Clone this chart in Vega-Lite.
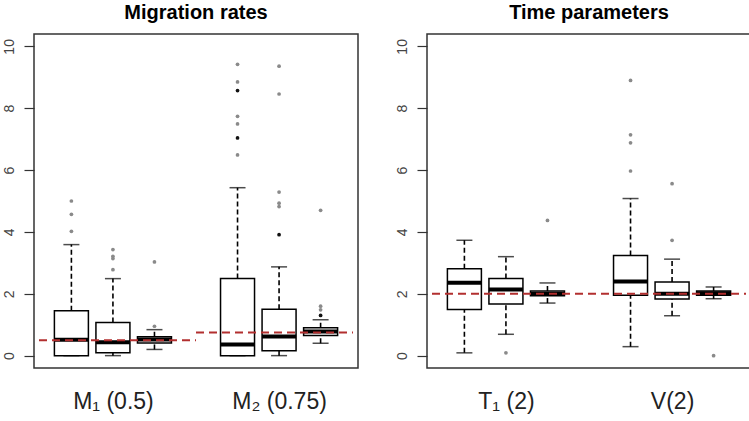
{
  "$schema": "https://vega.github.io/schema/vega-lite/v6.json",
  "background": "white",
  "padding": {"left": 1, "top": 2, "right": 0, "bottom": 0},
  "spacing": 35,
  "datasets": {
    "boxL": [
      {"pos": 1, "lower": 0, "q1": 0, "median": 0.51, "q3": 1.45, "upper": 3.59},
      {"pos": 2, "lower": 0, "q1": 0.09, "median": 0.43, "q3": 1.07, "upper": 2.49},
      {"pos": 3, "lower": 0.2, "q1": 0.41, "median": 0.52, "q3": 0.61, "upper": 0.84},
      {"pos": 5, "lower": 0, "q1": 0, "median": 0.36, "q3": 2.49, "upper": 5.43},
      {"pos": 6, "lower": 0, "q1": 0.16, "median": 0.62, "q3": 1.5, "upper": 2.87},
      {"pos": 7, "lower": 0.4, "q1": 0.65, "median": 0.78, "q3": 0.9, "upper": 1.16}
    ],
    "outL": [
      {"pos": 1, "value": 5.0, "n": 1}, {"pos": 1, "value": 4.57, "n": 1}, {"pos": 1, "value": 4.02, "n": 1},
      {"pos": 2, "value": 3.43, "n": 1}, {"pos": 2, "value": 3.21, "n": 1}, {"pos": 2, "value": 3.14, "n": 1}, {"pos": 2, "value": 2.78, "n": 1},
      {"pos": 3, "value": 3.03, "n": 1}, {"pos": 3, "value": 0.95, "n": 1},
      {"pos": 5, "value": 9.42, "n": 1}, {"pos": 5, "value": 8.85, "n": 1}, {"pos": 5, "value": 8.57, "n": 2}, {"pos": 5, "value": 7.74, "n": 1}, {"pos": 5, "value": 7.49, "n": 1}, {"pos": 5, "value": 7.04, "n": 2}, {"pos": 5, "value": 6.49, "n": 1},
      {"pos": 6, "value": 9.36, "n": 1}, {"pos": 6, "value": 8.46, "n": 1}, {"pos": 6, "value": 5.29, "n": 1}, {"pos": 6, "value": 4.93, "n": 1}, {"pos": 6, "value": 4.82, "n": 1}, {"pos": 6, "value": 3.91, "n": 2},
      {"pos": 7, "value": 4.7, "n": 1}, {"pos": 7, "value": 1.6, "n": 1}, {"pos": 7, "value": 1.48, "n": 1}, {"pos": 7, "value": 1.3, "n": 2}
    ],
    "refL": [
      {"x0": 0.22, "x1": 4, "ref": 0.5},
      {"x0": 4, "x1": 7.78, "ref": 0.75}
    ],
    "boxR": [
      {"pos": 1, "lower": 0.09, "q1": 1.49, "median": 2.36, "q3": 2.81, "upper": 3.73},
      {"pos": 2, "lower": 0.69, "q1": 1.67, "median": 2.14, "q3": 2.49, "upper": 3.2},
      {"pos": 3, "lower": 1.7, "q1": 1.94, "median": 2.0, "q3": 2.09, "upper": 2.35},
      {"pos": 5, "lower": 0.29, "q1": 1.95, "median": 2.4, "q3": 3.24, "upper": 5.08},
      {"pos": 6, "lower": 1.29, "q1": 1.83, "median": 2.0, "q3": 2.38, "upper": 3.12},
      {"pos": 7, "lower": 1.84, "q1": 1.95, "median": 2.02, "q3": 2.09, "upper": 2.22}
    ],
    "outR": [
      {"pos": 2, "value": 0.09, "n": 1},
      {"pos": 3, "value": 4.37, "n": 1},
      {"pos": 5, "value": 8.9, "n": 1}, {"pos": 5, "value": 7.14, "n": 1}, {"pos": 5, "value": 6.88, "n": 1}, {"pos": 5, "value": 5.97, "n": 1},
      {"pos": 6, "value": 5.56, "n": 1}, {"pos": 6, "value": 3.73, "n": 1},
      {"pos": 7, "value": 0.0, "n": 1}
    ],
    "refR": [
      {"x0": 0.22, "x1": 7.78, "ref": 2}
    ]
  },
  "hconcat": [
    {
      "width": 324,
      "height": 334,
      "title": {"text": "Migration rates"},
      "layer": [
        {
          "data": {"name": "boxL"},
          "mark": {"type": "rule", "color": "black", "strokeWidth": 1.6, "strokeDash": [5, 3]},
          "encoding": {
            "x": {"field": "pos", "type": "quantitative", "scale": {"domain": [0.22, 7.78], "nice": false, "zero": false},
              "axis": {"values": [2, 6], "labelExpr": "datum.value == 2 ? 'M₁ (0.5)' : 'M₂ (0.75)'"}},
            "y": {"field": "q3", "type": "quantitative", "scale": {"domain": [-0.4, 10.4], "nice": false, "zero": false}, "axis": {"values": [0, 2, 4, 6, 8, 10]}},
            "y2": {"field": "upper"}
          }
        },
        {
          "data": {"name": "boxL"},
          "mark": {"type": "rule", "color": "black", "strokeWidth": 1.6, "strokeDash": [5, 3]},
          "encoding": {
            "x": {"field": "pos", "type": "quantitative"},
            "y": {"field": "lower", "type": "quantitative"},
            "y2": {"field": "q1"}
          }
        },
        {
          "data": {"name": "boxL"},
          "mark": {"type": "tick", "orient": "horizontal", "color": "black", "size": 16, "thickness": 1.5},
          "encoding": {
            "x": {"field": "pos", "type": "quantitative"},
            "y": {"field": "upper", "type": "quantitative"}
          }
        },
        {
          "data": {"name": "boxL"},
          "mark": {"type": "tick", "orient": "horizontal", "color": "black", "size": 16, "thickness": 1.5},
          "encoding": {
            "x": {"field": "pos", "type": "quantitative"},
            "y": {"field": "lower", "type": "quantitative"}
          }
        },
        {
          "data": {"name": "boxL"},
          "mark": {"type": "bar", "orient": "vertical", "size": 34, "fill": "white", "stroke": "black", "strokeWidth": 1.5},
          "encoding": {
            "x": {"field": "pos", "type": "quantitative"},
            "y": {"field": "q1", "type": "quantitative"},
            "y2": {"field": "q3"}
          }
        },
        {
          "data": {"name": "boxL"},
          "mark": {"type": "tick", "orient": "horizontal", "color": "black", "size": 34, "thickness": 4, "opacity": 1},
          "encoding": {
            "x": {"field": "pos", "type": "quantitative"},
            "y": {"field": "median", "type": "quantitative"}
          }
        },
        {
          "data": {"name": "outL"},
          "mark": {"type": "point", "shape": "circle", "filled": true, "size": 14, "opacity": 1},
          "encoding": {
            "x": {"field": "pos", "type": "quantitative"},
            "y": {"field": "value", "type": "quantitative"},
            "color": {"field": "n", "type": "ordinal", "scale": {"domain": [1, 2], "range": ["#8a8a8a", "#111111"]}, "legend": null}
          }
        },
        {
          "data": {"name": "refL"},
          "mark": {"type": "rule", "color": "#b22f2f", "strokeWidth": 2, "strokeDash": [8, 5]},
          "encoding": {
            "x": {"field": "x0", "type": "quantitative"},
            "x2": {"field": "x1"},
            "y": {"field": "ref", "type": "quantitative"}
          }
        }
      ]
    },
    {
      "width": 324,
      "height": 334,
      "title": {"text": "Time parameters"},
      "layer": [
        {
          "data": {"name": "boxR"},
          "mark": {"type": "rule", "color": "black", "strokeWidth": 1.6, "strokeDash": [5, 3]},
          "encoding": {
            "x": {"field": "pos", "type": "quantitative", "scale": {"domain": [0.22, 7.78], "nice": false, "zero": false},
              "axis": {"values": [2, 6], "labelExpr": "datum.value == 2 ? 'T₁ (2)' : 'V(2)'"}},
            "y": {"field": "q3", "type": "quantitative", "scale": {"domain": [-0.4, 10.4], "nice": false, "zero": false}, "axis": {"values": [0, 2, 4, 6, 8, 10]}},
            "y2": {"field": "upper"}
          }
        },
        {
          "data": {"name": "boxR"},
          "mark": {"type": "rule", "color": "black", "strokeWidth": 1.6, "strokeDash": [5, 3]},
          "encoding": {
            "x": {"field": "pos", "type": "quantitative"},
            "y": {"field": "lower", "type": "quantitative"},
            "y2": {"field": "q1"}
          }
        },
        {
          "data": {"name": "boxR"},
          "mark": {"type": "tick", "orient": "horizontal", "color": "black", "size": 16, "thickness": 1.5},
          "encoding": {
            "x": {"field": "pos", "type": "quantitative"},
            "y": {"field": "upper", "type": "quantitative"}
          }
        },
        {
          "data": {"name": "boxR"},
          "mark": {"type": "tick", "orient": "horizontal", "color": "black", "size": 16, "thickness": 1.5},
          "encoding": {
            "x": {"field": "pos", "type": "quantitative"},
            "y": {"field": "lower", "type": "quantitative"}
          }
        },
        {
          "data": {"name": "boxR"},
          "mark": {"type": "bar", "orient": "vertical", "size": 34, "fill": "white", "stroke": "black", "strokeWidth": 1.5},
          "encoding": {
            "x": {"field": "pos", "type": "quantitative"},
            "y": {"field": "q1", "type": "quantitative"},
            "y2": {"field": "q3"}
          }
        },
        {
          "data": {"name": "boxR"},
          "mark": {"type": "tick", "orient": "horizontal", "color": "black", "size": 34, "thickness": 4, "opacity": 1},
          "encoding": {
            "x": {"field": "pos", "type": "quantitative"},
            "y": {"field": "median", "type": "quantitative"}
          }
        },
        {
          "data": {"name": "outR"},
          "mark": {"type": "point", "shape": "circle", "filled": true, "size": 14, "opacity": 1},
          "encoding": {
            "x": {"field": "pos", "type": "quantitative"},
            "y": {"field": "value", "type": "quantitative"},
            "color": {"field": "n", "type": "ordinal", "scale": {"domain": [1, 2], "range": ["#8a8a8a", "#111111"]}, "legend": null}
          }
        },
        {
          "data": {"name": "refR"},
          "mark": {"type": "rule", "color": "#b22f2f", "strokeWidth": 2, "strokeDash": [8, 5]},
          "encoding": {
            "x": {"field": "x0", "type": "quantitative"},
            "x2": {"field": "x1"},
            "y": {"field": "ref", "type": "quantitative"}
          }
        }
      ]
    }
  ],
  "resolve": {"scale": {"color": "independent"}},
  "config": {
    "font": "Liberation Sans",
    "view": {"stroke": "#333333", "strokeWidth": 1.5},
    "title": {"fontSize": 20, "fontWeight": "bold", "color": "black", "offset": 11, "anchor": "middle", "font": "Liberation Sans"},
    "axis": {"grid": false, "title": null},
    "axisX": {"domain": false, "ticks": false, "labelFontSize": 23, "labelColor": "#222222", "labelPadding": 22, "labelFont": "Liberation Sans"},
    "axisY": {"domain": false, "ticks": true, "tickSize": 10, "tickColor": "#333333", "tickWidth": 1.2, "labelAngle": 270, "labelFontSize": 14, "labelColor": "#444444", "labelPadding": 8, "minExtent": 31, "maxExtent": 31, "labelFont": "Liberation Sans"}
  }
}
